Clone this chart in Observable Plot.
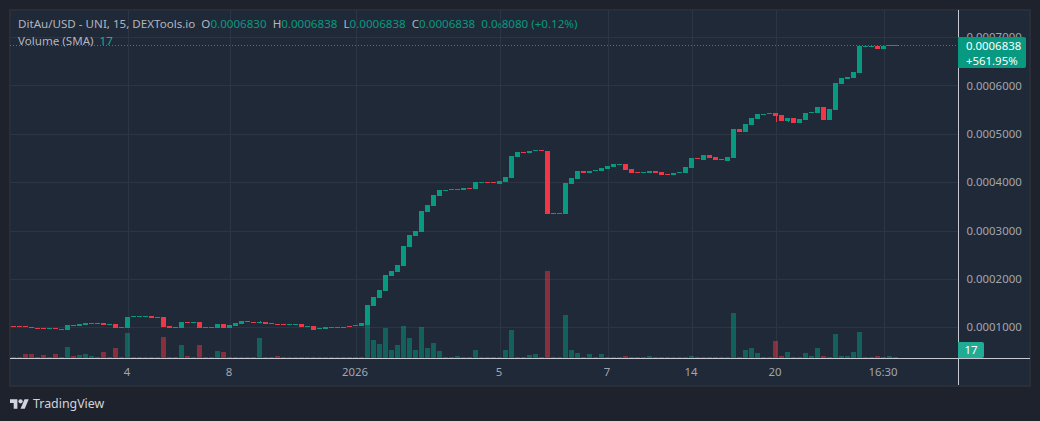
<!DOCTYPE html>
<html>
<head>
<meta charset="utf-8">
<script src="https://cdn.jsdelivr.net/npm/d3@7"></script>
<script src="https://cdn.jsdelivr.net/npm/@observablehq/plot@0.6"></script>
<style>
  html,body{margin:0;padding:0;width:1040px;height:421px;overflow:hidden;background:#1e222d;font-family:"Noto Sans",sans-serif;}
  #frame{position:absolute;left:9px;top:9px;width:1022px;height:378px;box-sizing:border-box;border:2px solid #2a2e39;background:#1f2937;}
  #chart{position:absolute;left:0;top:0;}
  #chart svg{display:block;}
  .row{position:absolute;left:18px;font-size:11.6px;line-height:16px;color:#b2b5be;white-space:pre;}
  .row b{font-weight:400;color:#089981;}
  .row sub{font-size:7px;vertical-align:baseline;line-height:0;}
  #tag{position:absolute;left:958px;top:37px;width:68px;height:31px;background:#089981;border-radius:0 2px 2px 0;color:#fff;font-size:11.4px;}
  #tag div{position:absolute;left:8px;line-height:15px;white-space:pre;}
  #vtag{position:absolute;left:958px;top:342px;width:26px;height:16px;background:#22ab94;border-radius:0 2px 2px 0;color:#fff;font-size:11.4px;line-height:16px;text-align:center;}
  #brand{position:absolute;left:10px;top:396px;display:flex;align-items:center;color:#d1d4dc;font-size:12.4px;line-height:15px;}
  #brand svg{margin-right:4px;}
</style>
</head>
<body>
<div id="frame"></div>
<div id="chart"></div>
<div class="row" style="top:16px">DitAu/USD - UNI, 15, DEXTools.io  O<b>0.0006830</b>  H<b>0.0006838</b>  L<b>0.0006838</b>  C<b>0.0006838</b>  <b>0.0<sub>6</sub>8080 (+0.12%)</b></div>
<div class="row" style="top:33px">Volume (SMA)  <b style="color:#22ab94">17</b></div>
<div id="tag"><div style="top:0.5px">0.0006838</div><div style="top:15.5px">+561.95%</div></div>
<div id="vtag">17</div>
<div id="brand"><svg width="19" height="14" viewBox="0 2 36 22"><path fill="#d1d4dc" d="M14 22H7V11H0V4h14v18zM28 22h-8l7.5-18h8L28 22z"/><circle cx="20" cy="8" r="4" fill="#d1d4dc"/></svg>TradingView</div>
<script>
// Candle bodies, in units of 0.0000001 USD, one value per 15-min bar
const opens = [1030,1030,1030,1009,989,989,969,989,948,944,
1057,1027,1047,1072,1092,1089,1051,1068,989,985,
1223,1223,1223,1233,1196,1213,1027,1009,985,1113,
1093,1109,989,989,985,1068,985,1027,1068,1133,
1113,1093,1109,1092,1071,1071,1051,1051,1068,1010,
1027,969,965,989,989,1016,1030,1031,1027,1041,
1440,1605,1750,2060,2142,2266,2659,2886,2969,3382,
3506,3713,3820,3840,3840,3837,3881,3857,3985,4005,
4005,3960,4002,4084,4518,4625,4601,4646,4666,4642,
3365,3345,3341,3960,4064,4229,4188,4233,4229,4270,
4312,4357,4374,4270,4212,4192,4188,4229,4208,4170,
4146,4192,4188,4291,4501,4456,4560,4518,4480,4436,
4498,5097,5035,5179,5303,5390,5411,5427,5386,5262,
5324,5221,5283,5431,5427,5551,5283,5489,6026,6130,
6150,6254,6795,6795,6811,6750,6818,6820];
const closes = [1010,1010,1010,989,969,969,989,969,968,1047,
1037,1068,1089,1092,1072,1047,1071,985,1009,1213,
1243,1243,1243,1199,1216,1006,985,989,1109,1093,
1113,985,1009,1009,1068,985,1047,1089,1130,1113,
1093,1113,1068,1072,1051,1051,1071,1071,1006,1030,
944,989,999,1009,1009,996,1010,1051,1089,1461,
1626,1771,2080,2163,2287,2680,2907,2989,3403,3527,
3733,3837,3840,3860,3860,3878,3861,4002,4005,3985,
3985,4022,4105,4539,4622,4605,4642,4666,4646,3341,
3345,3365,3981,4084,4229,4188,4229,4253,4291,4332,
4374,4377,4250,4188,4192,4212,4229,4188,4146,4150,
4188,4212,4312,4498,4481,4560,4498,4456,4460,4518,
5097,5035,5200,5324,5407,5410,5431,5365,5262,5324,
5221,5303,5427,5451,5551,5283,5510,6047,6150,6171,
6274,6811,6815,6815,6750,6811,6838,6838];
const volumes = [2,2,9,9,2,7,2,9,2,24,
5,7,9,5,2,13,2,20,2,53,
2,2,2,2,2,45,2,2,28,5,
2,28,2,2,15,13,2,2,2,2,
2,43,2,2,5,2,2,2,2,2,
2,2,2,2,2,2,2,2,2,72,
38,30,64,17,28,68,41,17,66,20,
32,15,2,2,5,2,2,17,2,2,
2,2,17,59,2,2,7,9,2,183,
2,2,91,17,11,2,9,2,9,2,
2,2,5,2,2,2,5,2,2,2,
2,2,2,5,2,2,2,2,2,2,
95,2,17,20,11,2,2,36,5,13,
2,2,11,5,20,5,2,51,5,5,
13,55,2,2,5,2,5,2];
// The few visible wicks: bar index, and the price they reach
const wickBars = [41,127,129];
const wickEnds = [1130,5241,5241];
// Axis ticks
const priceTicks = [1000,2000,3000,4000,5000,6000,7000];
const timeTickBars = [19,36,57,81,99,113,127,145];
const timeTickLabels = ["4","8","2026","5","7","14","20","16:30"];
const lastClose = 6838;

const price = u => u / 1e7;
const up = "#089981", down = "#f23645", grid = "#2c3544", axisLine = "#c7cad2", label = "#a3a6af";
// Volume pane floor, and the price-units-per-volume-unit of its overlay
const volumeFloor = 366, volumeUnit = 9.84;

const bars = opens.map((o, i) => ({i, open: price(o), close: price(closes[i]), vol: volumes[i], isUp: closes[i] >= o}));
const wicks = wickBars.map((b, k) => ({i: b, from: bars[b].isUp ? bars[b].open : bars[b].close, to: price(wickEnds[k])}));
const xStart = -3.5 / 6, xEnd = 944.5 / 6, half = 2.5 / 6;
const bottomEdge = price(volumeFloor - 27 * 20.66), topEdge = price(7558);

const plot = Plot.plot({
  width: 1040, height: 385,
  marginTop: 10, marginBottom: 27, marginLeft: 10, marginRight: 82,
  style: {background: "transparent", fontFamily: '"Noto Sans",sans-serif', fontSize: "11.4px"},
  x: {type: "linear", domain: [xStart, xEnd], axis: null},
  y: {type: "linear", domain: [price(volumeFloor), topEdge], axis: null},
  marks: [
    Plot.gridY(priceTicks.map(price), {stroke: grid, strokeOpacity: 1, shapeRendering: "crispEdges"}),
    Plot.gridX(timeTickBars, {stroke: grid, strokeOpacity: 1, shapeRendering: "crispEdges"}),
    Plot.rect(bars, {
      x1: d => d.i - half, x2: d => d.i + half,
      y1: price(volumeFloor), y2: d => price(volumeFloor + d.vol * volumeUnit),
      fill: d => d.isUp ? up : down, fillOpacity: 0.5, shapeRendering: "crispEdges"
    }),
    Plot.ruleX(wicks, {x: "i", y1: "from", y2: "to", stroke: d => bars[d.i].isUp ? up : down, strokeWidth: 1, shapeRendering: "crispEdges"}),
    Plot.rect(bars, {
      x1: d => d.i - half, x2: d => d.i + half,
      y1: "open", y2: "close",
      fill: d => d.isUp ? up : down, shapeRendering: "crispEdges"
    }),
    Plot.ruleY([price(lastClose)], {stroke: up, strokeWidth: 1, strokeDasharray: "1,2", shapeRendering: "crispEdges"}),
    Plot.ruleY([price(volumeFloor)], {x1: xStart, x2: (1030 - 13.5) / 6, stroke: axisLine, strokeWidth: 1, shapeRendering: "crispEdges"}),
    Plot.ruleX([xEnd], {y1: topEdge, y2: bottomEdge, stroke: axisLine, strokeWidth: 1, shapeRendering: "crispEdges"}),
    Plot.axisY(priceTicks.map(price), {anchor: "right", tickSize: 0, tickPadding: 8, label: null, tickFormat: d => d.toFixed(7), fill: label}),
    Plot.axisX(timeTickBars, {anchor: "bottom", tickSize: 0, tickPadding: 9, dx: -1, label: null, tickFormat: d => timeTickLabels[timeTickBars.indexOf(d)], fill: label})
  ]
});
document.getElementById("chart").append(plot);
</script>
</body>
</html>
